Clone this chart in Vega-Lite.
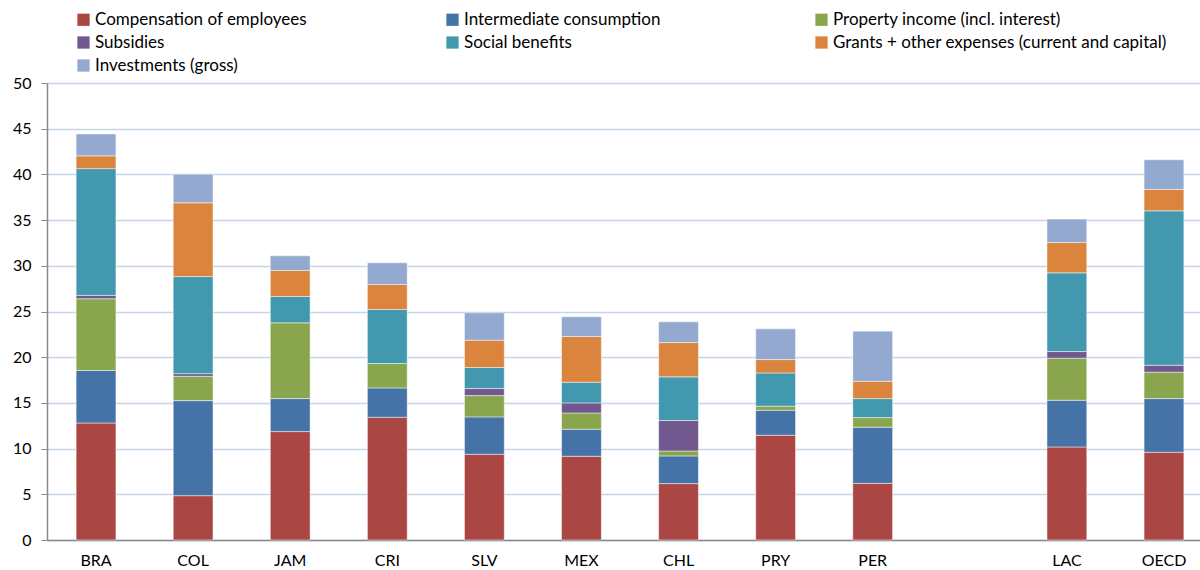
{
  "$schema": "https://vega.github.io/schema/vega-lite/v6.json",
  "width": 1166,
  "height": 457,
  "autosize": {"type": "none"},
  "padding": {"left": 47, "top": 83, "right": 0, "bottom": 30},
  "background": "white",
  "config": {
    "view": {"stroke": null},
    "font": "Lato",
    "axis": {"labelFont": "Lato", "labelColor": "#000000"},
    "legend": {"labelFont": "Lato"}
  },
  "data": {
    "values": [
      {"c": "BRA", "s": "Compensation of employees", "k": 1, "v": 12.8},
      {"c": "BRA", "s": "Intermediate consumption", "k": 2, "v": 5.75},
      {"c": "BRA", "s": "Property income (incl. interest)", "k": 3, "v": 7.85},
      {"c": "BRA", "s": "Subsidies", "k": 4, "v": 0.36},
      {"c": "BRA", "s": "Social benefits", "k": 5, "v": 13.87},
      {"c": "BRA", "s": "Grants + other expenses (current and capital)", "k": 6, "v": 1.4},
      {"c": "BRA", "s": "Investments (gross)", "k": 7, "v": 2.4},
      {"c": "COL", "s": "Compensation of employees", "k": 1, "v": 4.85},
      {"c": "COL", "s": "Intermediate consumption", "k": 2, "v": 10.4},
      {"c": "COL", "s": "Property income (incl. interest)", "k": 3, "v": 2.66},
      {"c": "COL", "s": "Subsidies", "k": 4, "v": 0.29},
      {"c": "COL", "s": "Social benefits", "k": 5, "v": 10.62},
      {"c": "COL", "s": "Grants + other expenses (current and capital)", "k": 6, "v": 8.07},
      {"c": "COL", "s": "Investments (gross)", "k": 7, "v": 3.14},
      {"c": "JAM", "s": "Compensation of employees", "k": 1, "v": 11.86},
      {"c": "JAM", "s": "Intermediate consumption", "k": 2, "v": 3.61},
      {"c": "JAM", "s": "Property income (incl. interest)", "k": 3, "v": 8.29},
      {"c": "JAM", "s": "Social benefits", "k": 5, "v": 2.88},
      {"c": "JAM", "s": "Grants + other expenses (current and capital)", "k": 6, "v": 2.85},
      {"c": "JAM", "s": "Investments (gross)", "k": 7, "v": 1.6},
      {"c": "CRI", "s": "Compensation of employees", "k": 1, "v": 13.43},
      {"c": "CRI", "s": "Intermediate consumption", "k": 2, "v": 3.21},
      {"c": "CRI", "s": "Property income (incl. interest)", "k": 3, "v": 2.67},
      {"c": "CRI", "s": "Social benefits", "k": 5, "v": 5.91},
      {"c": "CRI", "s": "Grants + other expenses (current and capital)", "k": 6, "v": 2.74},
      {"c": "CRI", "s": "Investments (gross)", "k": 7, "v": 2.37},
      {"c": "SLV", "s": "Compensation of employees", "k": 1, "v": 9.38},
      {"c": "SLV", "s": "Intermediate consumption", "k": 2, "v": 4.09},
      {"c": "SLV", "s": "Property income (incl. interest)", "k": 3, "v": 2.33},
      {"c": "SLV", "s": "Subsidies", "k": 4, "v": 0.77},
      {"c": "SLV", "s": "Social benefits", "k": 5, "v": 2.3},
      {"c": "SLV", "s": "Grants + other expenses (current and capital)", "k": 6, "v": 2.99},
      {"c": "SLV", "s": "Investments (gross)", "k": 7, "v": 2.99},
      {"c": "MEX", "s": "Compensation of employees", "k": 1, "v": 9.16},
      {"c": "MEX", "s": "Intermediate consumption", "k": 2, "v": 2.96},
      {"c": "MEX", "s": "Property income (incl. interest)", "k": 3, "v": 1.78},
      {"c": "MEX", "s": "Subsidies", "k": 4, "v": 1.1},
      {"c": "MEX", "s": "Social benefits", "k": 5, "v": 2.26},
      {"c": "MEX", "s": "Grants + other expenses (current and capital)", "k": 6, "v": 5.0},
      {"c": "MEX", "s": "Investments (gross)", "k": 7, "v": 2.16},
      {"c": "CHL", "s": "Compensation of employees", "k": 1, "v": 6.17},
      {"c": "CHL", "s": "Intermediate consumption", "k": 2, "v": 3.03},
      {"c": "CHL", "s": "Property income (incl. interest)", "k": 3, "v": 0.54},
      {"c": "CHL", "s": "Subsidies", "k": 4, "v": 3.33},
      {"c": "CHL", "s": "Social benefits", "k": 5, "v": 4.78},
      {"c": "CHL", "s": "Grants + other expenses (current and capital)", "k": 6, "v": 3.75},
      {"c": "CHL", "s": "Investments (gross)", "k": 7, "v": 2.27},
      {"c": "PRY", "s": "Compensation of employees", "k": 1, "v": 11.46},
      {"c": "PRY", "s": "Intermediate consumption", "k": 2, "v": 2.74},
      {"c": "PRY", "s": "Property income (incl. interest)", "k": 3, "v": 0.44},
      {"c": "PRY", "s": "Social benefits", "k": 5, "v": 3.64},
      {"c": "PRY", "s": "Grants + other expenses (current and capital)", "k": 6, "v": 1.46},
      {"c": "PRY", "s": "Investments (gross)", "k": 7, "v": 3.36},
      {"c": "PER", "s": "Compensation of employees", "k": 1, "v": 6.2},
      {"c": "PER", "s": "Intermediate consumption", "k": 2, "v": 6.14},
      {"c": "PER", "s": "Property income (incl. interest)", "k": 3, "v": 1.05},
      {"c": "PER", "s": "Social benefits", "k": 5, "v": 2.08},
      {"c": "PER", "s": "Grants + other expenses (current and capital)", "k": 6, "v": 1.9},
      {"c": "PER", "s": "Investments (gross)", "k": 7, "v": 5.48},
      {"c": "LAC", "s": "Compensation of employees", "k": 1, "v": 10.18},
      {"c": "LAC", "s": "Intermediate consumption", "k": 2, "v": 5.11},
      {"c": "LAC", "s": "Property income (incl. interest)", "k": 3, "v": 4.6},
      {"c": "LAC", "s": "Subsidies", "k": 4, "v": 0.73},
      {"c": "LAC", "s": "Social benefits", "k": 5, "v": 8.61},
      {"c": "LAC", "s": "Grants + other expenses (current and capital)", "k": 6, "v": 3.32},
      {"c": "LAC", "s": "Investments (gross)", "k": 7, "v": 2.56},
      {"c": "OECD", "s": "Compensation of employees", "k": 1, "v": 9.6},
      {"c": "OECD", "s": "Intermediate consumption", "k": 2, "v": 5.87},
      {"c": "OECD", "s": "Property income (incl. interest)", "k": 3, "v": 2.89},
      {"c": "OECD", "s": "Subsidies", "k": 4, "v": 0.76},
      {"c": "OECD", "s": "Social benefits", "k": 5, "v": 16.9},
      {"c": "OECD", "s": "Grants + other expenses (current and capital)", "k": 6, "v": 2.34},
      {"c": "OECD", "s": "Investments (gross)", "k": 7, "v": 3.24}
    ]
  },
  "mark": {"type": "bar", "stroke": "#ffffff", "strokeWidth": 0.6, "strokeOpacity": 0.8},
  "encoding": {
    "x": {
      "field": "c",
      "type": "nominal",
      "scale": {
        "domain": ["BRA", "COL", "JAM", "CRI", "SLV", "MEX", "CHL", "PRY", "PER", " ", "LAC", "OECD"],
        "paddingInner": 0.59,
        "paddingOuter": 0.3
      },
      "axis": {
        "title": null,
        "labelAngle": 0,
        "labelFontSize": 16,
        "labelPadding": 12,
        "ticks": false,
        "domainColor": "#898989",
        "domainWidth": 1.5,
        "grid": false
      }
    },
    "y": {
      "field": "v",
      "type": "quantitative",
      "aggregate": "sum",
      "stack": "zero",
      "scale": {"domain": [0, 50], "nice": false},
      "axis": {
        "title": null,
        "values": [0, 5, 10, 15, 20, 25, 30, 35, 40, 45, 50],
        "labelFontSize": 16,
        "labelPadding": 10,
        "tickSize": 6,
        "tickColor": "#898989",
        "domainColor": "#898989",
        "domainWidth": 1.5,
        "gridColor": "#c5d5ea",
        "gridWidth": 1.5
      }
    },
    "color": {
      "field": "s",
      "type": "nominal",
      "scale": {
        "domain": [
          "Compensation of employees",
          "Intermediate consumption",
          "Property income (incl. interest)",
          "Subsidies",
          "Social benefits",
          "Grants + other expenses (current and capital)",
          "Investments (gross)"
        ],
        "range": ["#aa4643", "#4572a7", "#89a54e", "#71588f", "#4198af", "#db843d", "#93a9cf"]
      },
      "legend": {
        "title": null,
        "orient": "none",
        "legendX": 28,
        "legendY": -72,
        "direction": "horizontal",
        "columns": 3,
        "gridAlign": "all",
        "columnPadding": 15,
        "rowPadding": 5,
        "symbolType": "square",
        "symbolSize": 150,
        "symbolStrokeWidth": 0,
        "labelFontSize": 17,
        "labelOffset": 3,
        "labelLimit": 500,
        "labelColor": "#000000"
      }
    },
    "order": {"field": "k", "type": "quantitative", "sort": "ascending"},
    "tooltip": [{"field": "c"}, {"field": "s"}, {"field": "v"}]
  }
}
